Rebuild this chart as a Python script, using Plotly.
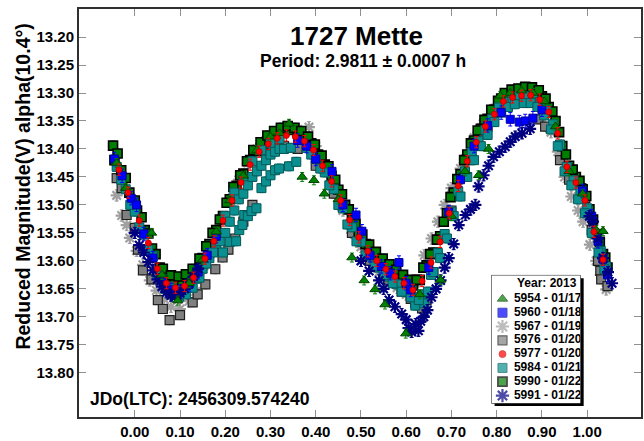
import plotly.graph_objects as go

# ---------------- data ----------------
sessions = ["5954 - 01/17", "5960 - 01/18", "5967 - 01/19", "5976 - 01/20",
            "5977 - 01/20", "5984 - 01/21", "5990 - 01/22", "5991 - 01/22"]

phase_5954 = [-0.040, -0.020, 0.037, 0.060, 0.095, 0.120, 0.150, 0.180, 0.210, 0.240,
              0.270, 0.300, 0.320, 0.341, 0.370, 0.396, 0.419, 0.450, 0.480, 0.507,
              0.531, 0.553, 0.599, 0.630, 0.676, 0.700, 0.730, 0.760, 0.782, 0.808,
              0.830, 0.855, 0.880, 0.905, 0.930, 0.960, 0.990, 1.020, 1.035]
mag_5954 = [13.425, 13.470, 13.550, 13.625, 13.671, 13.640, 13.598, 13.548, 13.492, 13.448,
            13.402, 13.378, 13.372, 13.355, 13.450, 13.456, 13.480, 13.490, 13.594, 13.635,
            13.651, 13.678, 13.730, 13.660, 13.634, 13.520, 13.440, 13.447, 13.400, 13.305,
            13.300, 13.296, 13.300, 13.315, 13.360, 13.440, 13.480, 13.545, 13.547]

phase_5960 = [-0.045, -0.028, -0.008, 0.004, 0.020, 0.040, 0.060, 0.080, 0.100, 0.120,
              0.140, 0.160, 0.180, 0.360, 0.380, 0.400, 0.436, 0.460, 0.489, 0.502,
              0.520, 0.545, 0.565, 0.584, 0.600, 0.610, 0.650, 0.694, 0.720, 0.750,
              0.780, 0.810, 0.830, 0.850, 0.863, 0.880, 0.900, 0.990, 1.010, 1.024,
              1.035, 1.045]
mag_5960 = [13.418, 13.448, 13.488, 13.500, 13.552, 13.595, 13.632, 13.652, 13.655, 13.642,
            13.620, 13.590, 13.556, 13.385, 13.395, 13.418, 13.440, 13.500, 13.518, 13.547,
            13.590, 13.610, 13.622, 13.603, 13.640, 13.652, 13.612, 13.513, 13.455, 13.395,
            13.358, 13.335, 13.347, 13.352, 13.350, 13.345, 13.330, 13.475, 13.520, 13.565,
            13.597, 13.625]

phase_5967 = [-0.040, -0.029, -0.018, -0.011, 0.004, 0.018, 0.033, 0.048, 0.065, 0.080,
              0.100, 0.120, 0.135, 0.150, 0.170, 0.190, 0.210, 0.230, 0.250, 0.270,
              0.290, 0.310, 0.330, 0.360, 0.385, 0.400, 0.420, 0.440, 0.460, 0.480,
              0.500, 0.520, 0.540, 0.560, 0.580, 0.600, 0.620, 0.640, 0.656, 0.670,
              0.685, 0.700, 0.720, 0.731, 0.750, 0.770, 0.790, 0.810, 0.830, 0.850,
              0.870, 0.890, 0.905, 0.920, 0.935, 0.950, 0.965, 0.980, 0.991, 1.006,
              1.020, 1.030, 1.042]
mag_5967 = [13.483, 13.519, 13.536, 13.559, 13.582, 13.607, 13.635, 13.653, 13.668, 13.682,
            13.686, 13.672, 13.655, 13.615, 13.575, 13.525, 13.490, 13.455, 13.425, 13.400,
            13.385, 13.372, 13.365, 13.365, 13.361, 13.395, 13.430, 13.470, 13.510, 13.550,
            13.575, 13.600, 13.620, 13.635, 13.648, 13.660, 13.640, 13.590, 13.560, 13.530,
            13.500, 13.470, 13.435, 13.417, 13.380, 13.355, 13.330, 13.310, 13.300, 13.300,
            13.305, 13.318, 13.340, 13.370, 13.405, 13.450, 13.485, 13.510, 13.530, 13.571,
            13.600, 13.625, 13.651]

phase_5976 = [-0.040, -0.029, -0.018, 0.000, 0.007, 0.018, 0.037, 0.051, 0.062, 0.077,
              0.100, 0.128, 0.139, 0.156, 0.178, 0.194, 0.207, 0.222, 0.240, 0.260,
              0.300, 0.330, 0.360, 0.400, 0.440, 0.480, 0.520, 0.560, 0.590, 0.610,
              0.620, 0.635, 0.645, 0.660, 0.700, 0.740, 0.780, 0.820, 0.860, 0.892,
              0.907, 0.940, 0.960, 0.987, 0.996, 1.010, 1.024, 1.029, 1.031, 1.045]
mag_5976 = [13.452, 13.470, 13.518, 13.541, 13.580, 13.617, 13.633, 13.670, 13.686, 13.706,
            13.697, 13.674, 13.660, 13.642, 13.615, 13.594, 13.580, 13.560, 13.530, 13.500,
            13.405, 13.395, 13.400, 13.430, 13.480, 13.550, 13.600, 13.635, 13.655, 13.668,
            13.675, 13.685, 13.670, 13.620, 13.510, 13.420, 13.360, 13.320, 13.310, 13.347,
            13.360, 13.420, 13.455, 13.470, 13.488, 13.545, 13.600, 13.618, 13.633, 13.645]

phase_5977 = [-0.035, -0.015, 0.010, 0.030, 0.050, 0.070, 0.090, 0.110, 0.130, 0.155,
              0.175, 0.195, 0.215, 0.235, 0.255, 0.275, 0.295, 0.315, 0.335, 0.355,
              0.375, 0.395, 0.415, 0.435, 0.455, 0.475, 0.495, 0.515, 0.535, 0.555,
              0.575, 0.595, 0.615, 0.635, 0.655, 0.675, 0.695, 0.715, 0.735, 0.755,
              0.775, 0.795, 0.815, 0.835, 0.855, 0.875, 0.895, 0.915, 0.935, 0.955,
              0.975, 0.995, 1.015, 1.035]
mag_5977 = [13.437, 13.478, 13.528, 13.568, 13.614, 13.640, 13.648, 13.645, 13.630, 13.596,
            13.565, 13.528, 13.492, 13.460, 13.428, 13.405, 13.391, 13.381, 13.376, 13.378,
            13.386, 13.402, 13.430, 13.458, 13.492, 13.527, 13.558, 13.583, 13.600, 13.615,
            13.628, 13.640, 13.652, 13.636, 13.603, 13.566, 13.515, 13.466, 13.422, 13.388,
            13.360, 13.338, 13.315, 13.308, 13.305, 13.304, 13.312, 13.334, 13.372, 13.432,
            13.460, 13.492, 13.548, 13.598]

phase_5984 = [-0.040, -0.020, 0.000, 0.020, 0.040, 0.060, 0.075, 0.090, 0.105, 0.120,
              0.135, 0.150, 0.165, 0.180, 0.195, 0.210, 0.224, 0.231, 0.238, 0.242,
              0.250, 0.258, 0.269, 0.280, 0.290, 0.300, 0.310, 0.319, 0.341, 0.357,
              0.200, 0.220, 0.240, 0.260, 0.280, 0.300, 0.320, 0.380, 0.400, 0.420,
              0.440, 0.460, 0.480, 0.500, 0.520, 0.540, 0.560, 0.580, 0.600, 0.615,
              0.620, 0.635, 0.640, 0.655, 0.670, 0.685, 0.700, 0.715, 0.730, 0.745,
              0.760, 0.775, 0.790, 0.805, 0.820, 0.835, 0.850, 0.865, 0.880, 0.895,
              0.910, 0.925, 0.940, 0.955, 0.970, 0.985, 1.000, 1.018, 1.030, 1.042,
              -0.030, -0.010, 0.010, 0.030, 0.050, 0.068, 0.083, 0.098, 0.113, 0.128,
              0.143, 0.158, 0.173, 0.188,
              0.200, 0.210, 0.220, 0.230, 0.240, 0.250, 0.260, 0.270, 0.280, 0.290,
              0.300, 0.310, 0.320, 0.330, 0.345,
              0.390, 0.410, 0.430, 0.450, 0.470, 0.490, 0.510, 0.530, 0.550, 0.570,
              0.590, 0.610, 0.628, 0.648, 0.660,
              0.675, 0.690, 0.705, 0.720, 0.735, 0.750, 0.765, 0.780, 0.795, 0.810,
              0.825, 0.840, 0.860, 0.875, 0.890, 0.905, 0.920, 0.935, 0.950, 0.965,
              0.980, 0.995, 1.010, 1.025, 1.038]
mag_5984 = [13.432, 13.472, 13.512, 13.553, 13.592, 13.632, 13.646, 13.655, 13.652, 13.645,
            13.632, 13.614, 13.595, 13.575, 13.585, 13.566, 13.565, 13.545, 13.536, 13.518,
            13.520, 13.511, 13.506, 13.470, 13.458, 13.447, 13.438, 13.435, 13.431, 13.423,
            13.520, 13.478, 13.455, 13.422, 13.402, 13.390, 13.382, 13.398, 13.418, 13.442,
            13.472, 13.506, 13.540, 13.566, 13.592, 13.612, 13.628, 13.642, 13.656, 13.664,
            13.680, 13.660, 13.676, 13.625, 13.586, 13.552, 13.512, 13.476, 13.440, 13.406,
            13.386, 13.366, 13.346, 13.326, 13.316, 13.311, 13.306, 13.306, 13.309, 13.316,
            13.331, 13.356, 13.392, 13.432, 13.456, 13.476, 13.506, 13.552, 13.582, 13.610,
            13.455, 13.500, 13.540, 13.580, 13.625, 13.650, 13.660, 13.664, 13.660, 13.648,
            13.630, 13.605, 13.585, 13.565,
            13.550, 13.530, 13.510, 13.490, 13.480, 13.465, 13.450, 13.440, 13.430, 13.420,
            13.410, 13.405, 13.400, 13.400, 13.398,
            13.410, 13.435, 13.465, 13.500, 13.535, 13.565, 13.590, 13.610, 13.625, 13.640,
            13.655, 13.665, 13.670, 13.655, 13.620,
            13.595, 13.560, 13.520, 13.485, 13.450, 13.420, 13.395, 13.375, 13.352, 13.335,
            13.325, 13.320, 13.318, 13.318, 13.325, 13.340, 13.365, 13.395, 13.440, 13.465,
            13.490, 13.515, 13.550, 13.585, 13.615]

phase_5990 = [-0.048, -0.045, -0.030, -0.012, 0.005, 0.022, 0.038, 0.055, 0.070, 0.088,
              0.105, 0.120, 0.135, 0.150, 0.165, 0.180, 0.195, 0.210, 0.225, 0.240,
              0.255, 0.270, 0.285, 0.300, 0.315, 0.330, 0.345, 0.360, 0.375, 0.390,
              0.405, 0.420, 0.435, 0.450, 0.465, 0.480, 0.495, 0.510, 0.525, 0.540,
              0.555, 0.570, 0.585, 0.600, 0.615, 0.630, 0.645, 0.660, 0.675, 0.690,
              0.705, 0.720, 0.735, 0.750, 0.765, 0.780, 0.795, 0.810, 0.825, 0.840,
              0.855, 0.870, 0.885, 0.900, 0.915, 0.930, 0.945, 0.960, 0.975, 0.990,
              1.005, 1.020, 1.035, 1.045,
              -0.038, -0.020, 0.000, 0.015, 0.030, 0.046, 0.062, 0.080, 0.097, 0.113,
              0.128, 0.143, 0.158, 0.172, 0.188, 0.203, 0.218, 0.233, 0.248, 0.262,
              0.278, 0.293, 0.308, 0.323, 0.338, 0.353, 0.368, 0.383, 0.398, 0.413,
              0.428, 0.443, 0.458, 0.473, 0.488, 0.503, 0.518, 0.533, 0.548, 0.563,
              0.578, 0.593, 0.608, 0.623, 0.638, 0.653, 0.668, 0.683, 0.698, 0.713,
              0.728, 0.743, 0.758, 0.773, 0.788, 0.803, 0.818, 0.833, 0.848, 0.863,
              0.878, 0.893, 0.908, 0.923, 0.938, 0.953, 0.968, 0.983, 0.998, 1.013,
              1.028, 1.040]
mag_5990 = [13.394, 13.420, 13.438, 13.478, 13.510, 13.545, 13.578, 13.612, 13.630, 13.640,
            13.636, 13.630, 13.615, 13.595, 13.570, 13.545, 13.520, 13.490, 13.466, 13.444,
            13.420, 13.404, 13.392, 13.380, 13.372, 13.368, 13.366, 13.372, 13.380, 13.390,
            13.410, 13.428, 13.448, 13.473, 13.500, 13.527, 13.550, 13.570, 13.585, 13.598,
            13.608, 13.618, 13.628, 13.636, 13.644, 13.634, 13.608, 13.585, 13.556, 13.515,
            13.478, 13.445, 13.410, 13.385, 13.364, 13.346, 13.330, 13.310, 13.302, 13.300,
            13.296, 13.295, 13.298, 13.306, 13.325, 13.350, 13.395, 13.430, 13.450, 13.472,
            13.508, 13.552, 13.588, 13.612,
            13.408, 13.452, 13.492, 13.522, 13.551, 13.588, 13.614, 13.626, 13.628, 13.624,
            13.614, 13.596, 13.574, 13.550, 13.526, 13.496, 13.468, 13.447, 13.422, 13.402,
            13.388, 13.376, 13.368, 13.362, 13.359, 13.362, 13.368, 13.378, 13.392, 13.412,
            13.431, 13.455, 13.481, 13.508, 13.534, 13.553, 13.571, 13.584, 13.596, 13.606,
            13.616, 13.625, 13.634, 13.634, 13.612, 13.588, 13.562, 13.530, 13.486, 13.454,
            13.420, 13.390, 13.367, 13.348, 13.330, 13.314, 13.300, 13.294, 13.292, 13.289,
            13.290, 13.295, 13.310, 13.333, 13.370, 13.410, 13.437, 13.457, 13.484, 13.526,
            13.566, 13.594]

phase_5991 = [0.000, 0.010, 0.020, 0.030, 0.040, 0.050, 0.060, 0.070, 0.080, 0.090,
              0.100, 0.110, 0.120, 0.130, 0.140, 0.500, 0.518, 0.540, 0.550, 0.562,
              0.575, 0.590, 0.600, 0.605, 0.612, 0.621, 0.627, 0.632, 0.639, 0.647,
              0.656, 0.666, 0.676, 0.685, 0.694, 0.705, 0.716, 0.731, 0.742, 0.753,
              0.760, 0.771, 0.782, 0.793, 0.806, 0.819, 0.830, 0.841, 0.856, 0.874,
              1.005, 1.013, 1.024, 1.035, 1.046, 1.055]
mag_5991 = [13.550, 13.572, 13.585, 13.602, 13.617, 13.633, 13.646, 13.656, 13.662, 13.664,
            13.658, 13.650, 13.640, 13.628, 13.614, 13.600, 13.618, 13.635, 13.650, 13.670,
            13.682, 13.695, 13.705, 13.720, 13.727, 13.713, 13.725, 13.708, 13.700, 13.688,
            13.665, 13.650, 13.635, 13.612, 13.595, 13.570, 13.536, 13.518, 13.508, 13.500,
            13.467, 13.447, 13.430, 13.414, 13.405, 13.396, 13.387, 13.378, 13.372, 13.364,
            13.520, 13.530, 13.560, 13.595, 13.620, 13.640]

# typical photometric error per session (mag)
errors = [0.008, 0.012, 0.010, 0.008, 0.010, 0.008, 0.008, 0.010]

x_ticks = [0.0, 0.1, 0.2, 0.3, 0.4, 0.5, 0.6, 0.7, 0.8, 0.9, 1.0]
y_ticks = [13.20, 13.25, 13.30, 13.35, 13.40, 13.45, 13.50, 13.55, 13.60,
           13.65, 13.70, 13.75, 13.80]

title_text = "1727 Mette"
period_text = "Period: 2.9811 ± 0.0007 h"
jdo_text = "JDo(LTC): 2456309.574240"
legend_title = "Year: 2013"
y_title = "Reduced Magnitude(V) alpha(10.4°)"

# ---------------- styles ----------------
data = {
    "5954 - 01/17": (phase_5954, mag_5954),
    "5960 - 01/18": (phase_5960, mag_5960),
    "5967 - 01/19": (phase_5967, mag_5967),
    "5976 - 01/20": (phase_5976, mag_5976),
    "5977 - 01/20": (phase_5977, mag_5977),
    "5984 - 01/21": (phase_5984, mag_5984),
    "5990 - 01/22": (phase_5990, mag_5990),
    "5991 - 01/22": (phase_5991, mag_5991),
}
for _k, (_p, _m) in data.items():
    assert len(_p) == len(_m), _k

styles = {
    "5954 - 01/17": dict(symbol="triangle-up", color="#008000", size=9, lc="#004000", lw=1),
    "5960 - 01/18": dict(symbol="square", color="#0000FF", size=8, lc="#0000A0", lw=1),
    "5967 - 01/19": dict(symbol="asterisk", color="#A0A0A0", size=10, lc="#A0A0A0", lw=2.2),
    "5976 - 01/20": dict(symbol="square", color="#808080", size=9, lc="#202020", lw=1.2),
    "5977 - 01/20": dict(symbol="circle", color="#FF0000", size=6, lc="#B00000", lw=0.8),
    "5984 - 01/21": dict(symbol="square", color="#0A9090", size=9, lc="#055858", lw=1),
    "5990 - 01/22": dict(symbol="square", color="#008000", size=9, lc="#000000", lw=1.6),
    "5991 - 01/22": dict(symbol="asterisk", color="#000080", size=10, lc="#000080", lw=2.2),
}
err_of = dict(zip(sessions, errors))
draw_order = ["5967 - 01/19", "5976 - 01/20", "5990 - 01/22", "5984 - 01/21",
              "5960 - 01/18", "5991 - 01/22", "5954 - 01/17", "5977 - 01/20"]

FONT = "Liberation Sans, Arial, sans-serif"

fig = go.Figure()
for name in draw_order:
    ph, mg = data[name]
    st = styles[name]
    fig.add_trace(go.Scatter(
        x=ph, y=mg, mode="markers", name=name, showlegend=False,
        marker=dict(symbol=st["symbol"], color=st["color"], size=st["size"],
                    line=dict(color=st["lc"], width=st["lw"])),
        error_y=dict(type="constant", value=err_of[name], color=st["color"],
                     thickness=1, width=2),
    ))

# custom legend (compact rows like the original)
rows = list(range(len(sessions)))
fig.add_trace(go.Scatter(
    x=[11] * len(sessions), y=rows,
    xaxis="x2", yaxis="y2", mode="markers",
    marker=dict(symbol=[styles[s]["symbol"] for s in sessions],
                color=[styles[s]["color"] for s in sessions],
                size=[9, 9, 11, 9, 7, 9, 9, 11],
                line=dict(color=[styles[s]["lc"] for s in sessions],
                          width=[1, 1, 2.2, 1.2, 0.8, 1, 1.8, 2.2])),
    showlegend=False, hoverinfo="skip",
))
fig.add_trace(go.Scatter(
    x=[22.5] * len(sessions), y=rows,
    xaxis="x2", yaxis="y2", mode="text",
    text=sessions, textposition="middle right",
    textfont=dict(family=FONT, size=12, color="black", weight="bold"),
    showlegend=False, hoverinfo="skip",
))

axis_common = dict(showgrid=False, zeroline=False, showline=True, linewidth=2,
                   linecolor="#303030", mirror="ticks", ticks="inside", ticklen=7,
                   tickwidth=1, tickcolor="#909090",
                   tickfont=dict(family=FONT, size=15, color="black", weight="bold"))

fig.update_layout(
    width=644, height=441,
    margin=dict(l=79, r=1, t=9, b=20),
    paper_bgcolor="white", plot_bgcolor="white",
    showlegend=False,
    xaxis=dict(range=[-0.1233, 1.119], tickvals=x_ticks, tickformat=".2f",
               **axis_common),
    yaxis=dict(range=[13.879, 13.1499], tickvals=y_ticks, tickformat=".2f",
               **axis_common),
    xaxis2=dict(domain=[0.734, 0.892], anchor="y2", range=[0, 89], visible=False),
    yaxis2=dict(domain=[0.034, 0.347], anchor="x2", range=[7.55, -1.70], visible=False),
    shapes=[
        dict(type="rect", xref="paper", yref="paper", layer="below",
             x0=0.7395, x1=0.898, y0=0.027, y1=0.340,
             fillcolor="black", line=dict(width=0)),
        dict(type="rect", xref="paper", yref="paper", layer="below",
             x0=0.734, x1=0.892, y0=0.034, y1=0.347,
             fillcolor="white", line=dict(color="black", width=1)),
    ],
    annotations=[
        dict(text=title_text, xref="paper", yref="paper", x=0.493, y=0.935,
             showarrow=False, xanchor="center", yanchor="middle",
             font=dict(family=FONT, size=26, color="black", weight="bold")),
        dict(text=period_text, xref="paper", yref="paper", x=0.506, y=0.873,
             showarrow=False, xanchor="center", yanchor="middle",
             font=dict(family=FONT, size=17.5, color="black", weight="bold")),
        dict(text=jdo_text, xref="paper", yref="paper", x=0.016, y=0.044,
             showarrow=False, xanchor="left", yanchor="middle",
             font=dict(family=FONT, size=17.5, color="black", weight="bold")),
        dict(text=y_title, xref="paper", yref="paper", x=-0.1002, y=0.564,
             showarrow=False, xanchor="center", yanchor="middle", textangle=-90,
             font=dict(family=FONT, size=19.5, color="black", weight="bold")),
        dict(text=legend_title, xref="x2", yref="y2", x=56, y=-1.15,
             showarrow=False, xanchor="center", yanchor="middle",
             font=dict(family=FONT, size=12, color="black", weight="bold")),
    ],
)

fig.write_html("out.html")
